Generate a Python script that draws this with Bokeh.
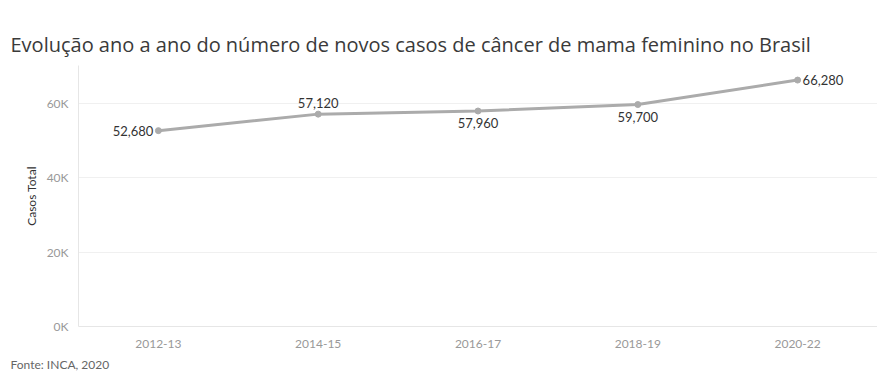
from bokeh.plotting import figure
from bokeh.models import ColumnDataSource, FactorRange, Range1d, Title, FixedTicker
from bokeh.embed import file_html
from bokeh.resources import INLINE
from bokeh.core.properties import value

periods = ["2012-13", "2014-15", "2016-17", "2018-19", "2020-22"]
casos = [52680, 57120, 57960, 59700, 66280]
y_ticks = [0, 20000, 40000, 60000]
y_tick_labels = ["0K", "20K", "40K", "60K"]
label_side = ["left", "above", "below", "below", "right"]

FONT = "Lato"
TFONT = "Open Sans"
W, H = 877, 382

p = figure(x_range=FactorRange(*periods), y_range=Range1d(0, 70200),
           width=W, height=H, output_backend="svg", toolbar_location=None,
           min_border_left=78, min_border_right=0, min_border_top=65, min_border_bottom=56)
p.outline_line_color = None

# title
p.title.text = "Evolução ano a ano do número de novos casos de câncer de mama feminino no Brasil"
p.title.text_font = TFONT
p.title.text_font_size = "20px"
p.title.text_font_style = "normal"
p.title.text_color = "#3a3a3a"
p.title.align = "left"
p.title.offset = -68
p.title.standoff = 16

src_note = Title(text="Fonte: INCA, 2020", text_font=FONT, text_font_size="12px",
                 text_font_style="normal", text_color="#666666", align="left", offset=-68,
                 standoff=8)
p.add_layout(src_note, "below")

# axes styling
p.yaxis.ticker = FixedTicker(ticks=y_ticks)
p.yaxis.major_label_overrides = {t: l for t, l in zip(y_ticks, y_tick_labels)}
p.yaxis.axis_label = "Casos Total"
p.yaxis.axis_label_text_font = FONT
p.yaxis.axis_label_text_font_size = "12px"
p.yaxis.axis_label_text_font_style = "normal"
p.yaxis.axis_label_text_color = "#333333"
p.yaxis.axis_label_standoff = 5
p.yaxis.major_label_text_font = FONT
p.yaxis.major_label_text_font_size = "12px"
p.yaxis.major_label_text_color = "#999999"
p.yaxis.major_tick_line_color = None
p.yaxis.major_tick_out = 0
p.yaxis.major_tick_in = 0
p.yaxis.minor_tick_line_color = None
p.yaxis.axis_line_color = "#e6e6e6"
p.yaxis.major_label_standoff = 10

p.xaxis.major_label_text_font = FONT
p.xaxis.major_label_text_font_size = "12px"
p.xaxis.major_label_text_color = "#999999"
p.xaxis.major_tick_line_color = None
p.xaxis.axis_line_color = "#e6e6e6"
p.xaxis.major_label_standoff = 7

p.xgrid.grid_line_color = None
p.ygrid.grid_line_color = "#f0f0f0"

src = ColumnDataSource(dict(x=periods, y=casos))
p.line("x", "y", source=src, line_color="#ababab", line_width=3)
p.scatter("x", "y", source=src, size=6, fill_color="#ababab", line_color="#ababab")

xo, yo, al, bl = [], [], [], []
for s in label_side:
    if s == "left":
        xo.append(-5); yo.append(0); al.append("right"); bl.append("middle")
    elif s == "right":
        xo.append(5); yo.append(0); al.append("left"); bl.append("middle")
    elif s == "above":
        xo.append(0); yo.append(-6); al.append("center"); bl.append("bottom")
    else:
        xo.append(0); yo.append(7); al.append("center"); bl.append("top")
lab = ColumnDataSource(dict(x=periods, y=casos, t=[f"{v:,}" for v in casos],
                            xo=xo, yo=yo, al=al, bl=bl))
p.text("x", "y", text="t", source=lab, x_offset="xo", y_offset="yo",
       text_align="al", text_baseline="bl", text_font=value(FONT),
       text_font_size="13px", text_color="#333333")

open("out.html", "w").write(file_html(p, INLINE))
